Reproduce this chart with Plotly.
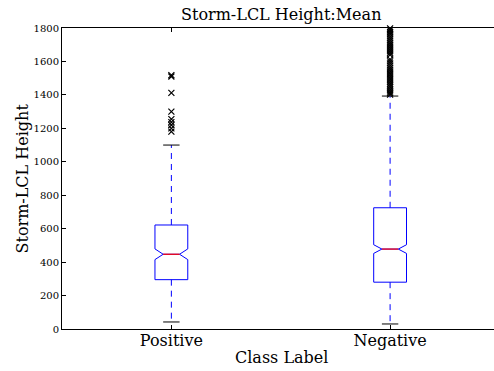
import plotly.graph_objects as go

# Summary statistics of storm-LCL height (mean) per class label
categories = ["Positive", "Negative"]
positions = [1, 2]
q1 = [295, 280]
median = [447, 478]
q3 = [622, 725]
whisker_low = [42, 30]
whisker_high = [1100, 1393]
notch_half = [32, 26]

fliers_positive = [1518, 1510, 1412, 1300, 1255, 1237, 1220, 1200, 1180]
fliers_negative = [1402, 1410, 1420, 1432, 1445, 1455, 1466, 1478, 1490, 1500,
                   1512, 1525, 1538, 1550, 1562, 1575, 1588, 1600, 1612, 1640,
                   1652, 1664, 1676, 1688, 1700, 1712, 1725, 1738, 1750, 1764,
                   1776, 1788, 1798]
fliers = [fliers_positive, fliers_negative]

yticks = [0, 200, 400, 600, 800, 1000, 1200, 1400, 1600, 1800]

BOX_W = 0.15
FONT = "DejaVu Serif"

fig = go.Figure()

for pos, a, m, b, lo, hi, nh, fl in zip(positions, q1, median, q3, whisker_low,
                                        whisker_high, notch_half, fliers):
    # notched box
    fig.add_trace(go.Box(
        x=[pos], q1=[a], median=[m], q3=[b], lowerfence=[a], upperfence=[b],
        notchspan=[nh], notched=True, notchwidth=0.25, width=BOX_W,
        line=dict(color="#0000ff", width=1), fillcolor="rgba(255,255,255,0)",
        boxpoints=False, whiskerwidth=0, hoverinfo="skip", showlegend=False,
    ))
    # dashed whiskers
    for y0, y1 in ((b, hi), (a, lo)):
        fig.add_trace(go.Scatter(
            x=[pos, pos], y=[y0, y1], mode="lines",
            line=dict(color="#0000ff", width=1, dash="6px,5px"),
            hoverinfo="skip", showlegend=False,
        ))
    # caps
    for y in (lo, hi):
        fig.add_trace(go.Scatter(
            x=[pos - BOX_W / 4, pos + BOX_W / 4], y=[y, y], mode="lines",
            line=dict(color="black", width=1), hoverinfo="skip", showlegend=False,
        ))
    # median line
    fig.add_trace(go.Scatter(
        x=[pos - BOX_W / 4, pos + BOX_W / 4], y=[m, m], mode="lines",
        line=dict(color="#ff0000", width=1.2), hoverinfo="skip", showlegend=False,
    ))
    # outliers
    fig.add_trace(go.Scatter(
        x=[pos] * len(fl), y=fl, mode="markers",
        marker=dict(symbol="x-thin", size=6, line=dict(color="black", width=1.2)),
        cliponaxis=False, hoverinfo="skip", showlegend=False,
    ))

fig.update_layout(
    width=494, height=371,
    margin=dict(l=62, r=0, t=28, b=42),
    paper_bgcolor="white", plot_bgcolor="white",
    font=dict(family=FONT, color="black"),
    xaxis=dict(
        range=[0.5, 2.475], tickmode="array", tickvals=positions, ticktext=categories,
        ticks="inside", ticklen=4, tickcolor="black", showgrid=False, zeroline=False,
        showline=True, linecolor="black", linewidth=1, mirror="ticks",
        tickfont=dict(family=FONT, size=16), ticklabelstandoff=-3,
    ),
    yaxis=dict(
        range=[0, 1800], tickmode="array", tickvals=yticks,
        ticks="inside", ticklen=4, tickcolor="black", showgrid=False, zeroline=False,
        showline=True, linecolor="black", linewidth=1,
        tickfont=dict(family=FONT, size=10),
    ),
    annotations=[
        dict(text="Storm-LCL Height:Mean", xref="paper", yref="paper",
             x=0.507, y=1, yshift=14, xanchor="center", yanchor="middle",
             showarrow=False, font=dict(family=FONT, size=16)),
        dict(text="Class Label", xref="paper", yref="paper",
             x=0.507, y=0, yshift=-28, xanchor="center", yanchor="middle",
             showarrow=False, font=dict(family=FONT, size=16)),
        dict(text="Storm-LCL Height", xref="paper", yref="paper",
             x=0, xshift=-40, y=0.5, xanchor="center", yanchor="middle",
             textangle=-90, showarrow=False, font=dict(family=FONT, size=16)),
    ],
)

fig.write_html("out.html")
